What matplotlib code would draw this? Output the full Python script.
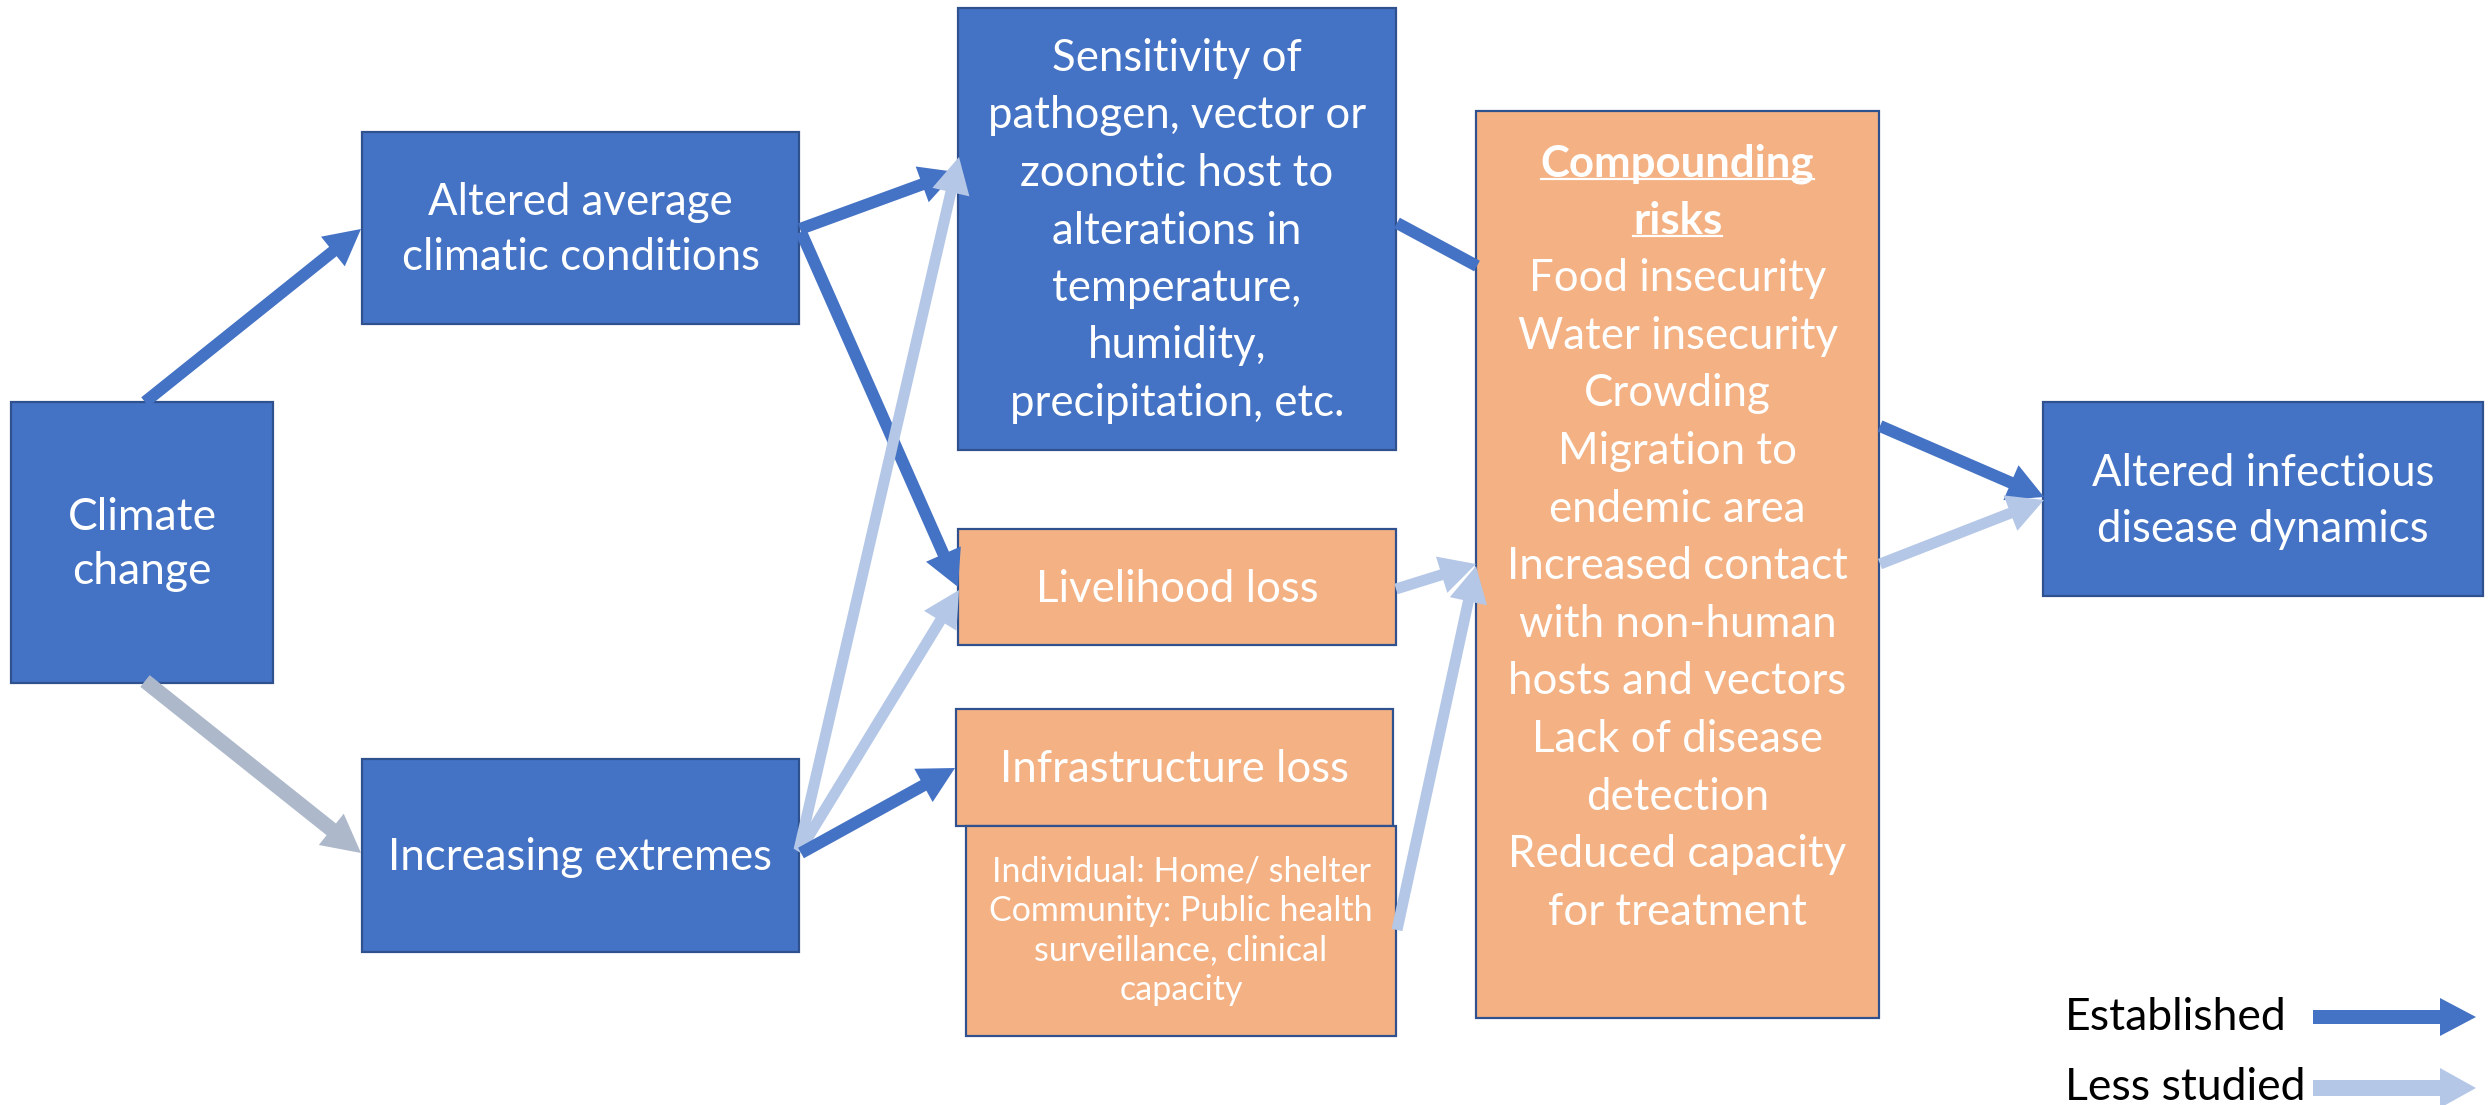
import matplotlib
matplotlib.use("Agg")
import matplotlib.pyplot as plt
from matplotlib.patches import Rectangle, FancyArrowPatch, ArrowStyle

W, H = 2491, 1105
FONT = ["Lato", "DejaVu Sans"]
plt.rcParams["font.family"] = FONT

DARK = "#4472C4"
EDGE = "#2F528F"
ORANGE = "#F4B183"
LIGHT = "#B4C7E7"
GREY = "#ADB9CA"

# ---- content ----
node_ids = ["climate", "altered", "extremes", "sensitivity", "livelihood",
            "infra", "individual", "compound", "outcome"]
node_lines = {
    "climate": ["Climate", "change"],
    "altered": ["Altered average", "climatic conditions"],
    "extremes": ["Increasing extremes"],
    "sensitivity": ["Sensitivity of", "pathogen, vector or", "zoonotic host to",
                    "alterations in", "temperature,", "humidity,",
                    "precipitation, etc."],
    "livelihood": ["Livelihood loss"],
    "infra": ["Infrastructure loss"],
    "individual": ["Individual: Home/ shelter", "Community: Public health",
                   "surveillance, clinical", "capacity"],
    "compound": ["Compounding", "risks", "Food insecurity", "Water insecurity",
                 "Crowding", "Migration to", "endemic area", "Increased contact",
                 "with non-human", "hosts and vectors", "Lack of disease",
                 "detection", "Reduced capacity", "for treatment"],
    "outcome": ["Altered infectious", "disease dynamics"],
}
node_fill = {"climate": DARK, "altered": DARK, "extremes": DARK,
             "sensitivity": DARK, "livelihood": ORANGE, "infra": ORANGE,
             "individual": ORANGE, "compound": ORANGE, "outcome": DARK}
bold_lines = {"compound": 2}

# links: (source, target, evidence)
links = [
    ("climate", "altered", "established"),
    ("climate", "extremes", "grey"),
    ("altered", "sensitivity", "established"),
    ("altered", "livelihood", "established"),
    ("extremes", "sensitivity", "less"),
    ("extremes", "livelihood", "less"),
    ("extremes", "infra", "established"),
    ("sensitivity", "compound", "line"),
    ("livelihood", "compound", "less"),
    ("individual", "compound", "less"),
    ("compound", "outcome", "established"),
    ("compound", "outcome", "less"),
]
legend_labels = ["Established", "Less studied"]

# ---- layout (pixels) ----
box = {
    "climate": (11, 402, 273, 683),
    "altered": (362, 132, 799, 324),
    "extremes": (362, 759, 799, 952),
    "sensitivity": (958, 8, 1396, 450),
    "livelihood": (958, 529, 1396, 645),
    "infra": (956, 709, 1393, 826),
    "individual": (966, 826, 1396, 1036),
    "compound": (1476, 111, 1879, 1018),
    "outcome": (2043, 402, 2483, 596),
}
text_cfg = {  # fontsize, line spacing px, center y
    "climate": (32, 54, 545),
    "altered": (31.5, 55, 230),
    "extremes": (31.5, 55, 858),
    "sensitivity": (31.5, 57.5, 231),
    "livelihood": (31.5, 55, 589),
    "infra": (31.5, 55, 769),
    "individual": (24.5, 39.5, 931),
    "compound": (31.5, 57.6, 538),
    "outcome": (31.5, 56, 501),
}
link_pts = [
    ((145, 402), (361, 229)),
    ((145, 681), (361, 853)),
    ((800, 229), (956, 172)),
    ((801, 232), (958, 587)),
    ((799, 850), (959, 157)),
    ((799, 852), (959, 590)),
    ((801, 853), (955, 768)),
    ((1397, 223), (1477, 266)),
    ((1396, 589), (1476, 564)),
    ((1397, 930), (1476, 566)),
    ((1880, 426), (2044, 497)),
    ((1880, 564), (2044, 500)),
]
style = {
    "established": dict(color=DARK, tail=12, head_w=38, head_l=36),
    "less": dict(color=LIGHT, tail=11, head_w=38, head_l=36),
    "grey": dict(color=GREY, tail=15, head_w=40, head_l=38),
    "line": dict(color=DARK, tail=12, head_w=0, head_l=0),
}

fig = plt.figure(figsize=(W / 100, H / 100), dpi=100)
ax = fig.add_axes([0, 0, 1, 1])
ax.set_xlim(0, W)
ax.set_ylim(H, 0)
ax.axis("off")

PX = 72 / 100  # points per pixel


def arrow(p0, p1, st, z=3):
    if st["head_l"] > 0:
        a = ArrowStyle("simple", head_length=st["head_l"], head_width=st["head_w"],
                       tail_width=st["tail"])
        fa = FancyArrowPatch(p0, p1, arrowstyle=a, mutation_scale=PX,
                             color=st["color"], lw=0, shrinkA=0, shrinkB=0, zorder=z)
        ax.add_patch(fa)
    else:
        ax.plot([p0[0], p1[0]], [p0[1], p1[1]], color=st["color"],
                lw=st["tail"] * PX, solid_capstyle="butt", zorder=z)


for nid in node_ids:
    x0, y0, x1, y1 = box[nid]
    ax.add_patch(Rectangle((x0, y0), x1 - x0, y1 - y0, facecolor=node_fill[nid],
                           edgecolor=EDGE, lw=2.2 * PX, zorder=2))

underline_texts = []
for nid in node_ids:
    x0, y0, x1, y1 = box[nid]
    fs, sp, cy = text_cfg[nid]
    lines = node_lines[nid]
    n = len(lines)
    cx = (x0 + x1) / 2
    nb = bold_lines.get(nid, 0)
    for i, ln in enumerate(lines):
        y = cy + (i - (n - 1) / 2) * sp
        t = ax.text(cx, y, ln, ha="center", va="center", color="white",
                    fontsize=fs, fontweight="bold" if i < nb else "normal",
                    zorder=5)
        if i < nb:
            underline_texts.append(t)

for (src, dst, kind), (p0, p1) in zip(links, link_pts):
    arrow(p0, p1, style[kind])

# legend
leg_y = [1017, 1088]
leg_style = [dict(color=DARK, tail=14, head_w=38, head_l=36),
             dict(color=LIGHT, tail=16, head_w=40, head_l=36)]
for lab, y, st in zip(legend_labels, leg_y, leg_style):
    ax.text(2065, y, lab, ha="left", va="center", color="black", fontsize=32)
    arrow((2313, y), (2476, y), st)

# underline bold header
fig.canvas.draw()
r = fig.canvas.get_renderer()
inv = ax.transData.inverted()
for t in underline_texts:
    bb = t.get_window_extent(renderer=r)
    (xa, ya), (xb, yb) = inv.transform([(bb.x0, bb.y0), (bb.x1, bb.y0)])
    ax.plot([xa, xb], [ya - 5, yb - 5], color="white", lw=2.2 * PX, zorder=6)

fig.savefig("out.png", dpi=100, facecolor="white")
